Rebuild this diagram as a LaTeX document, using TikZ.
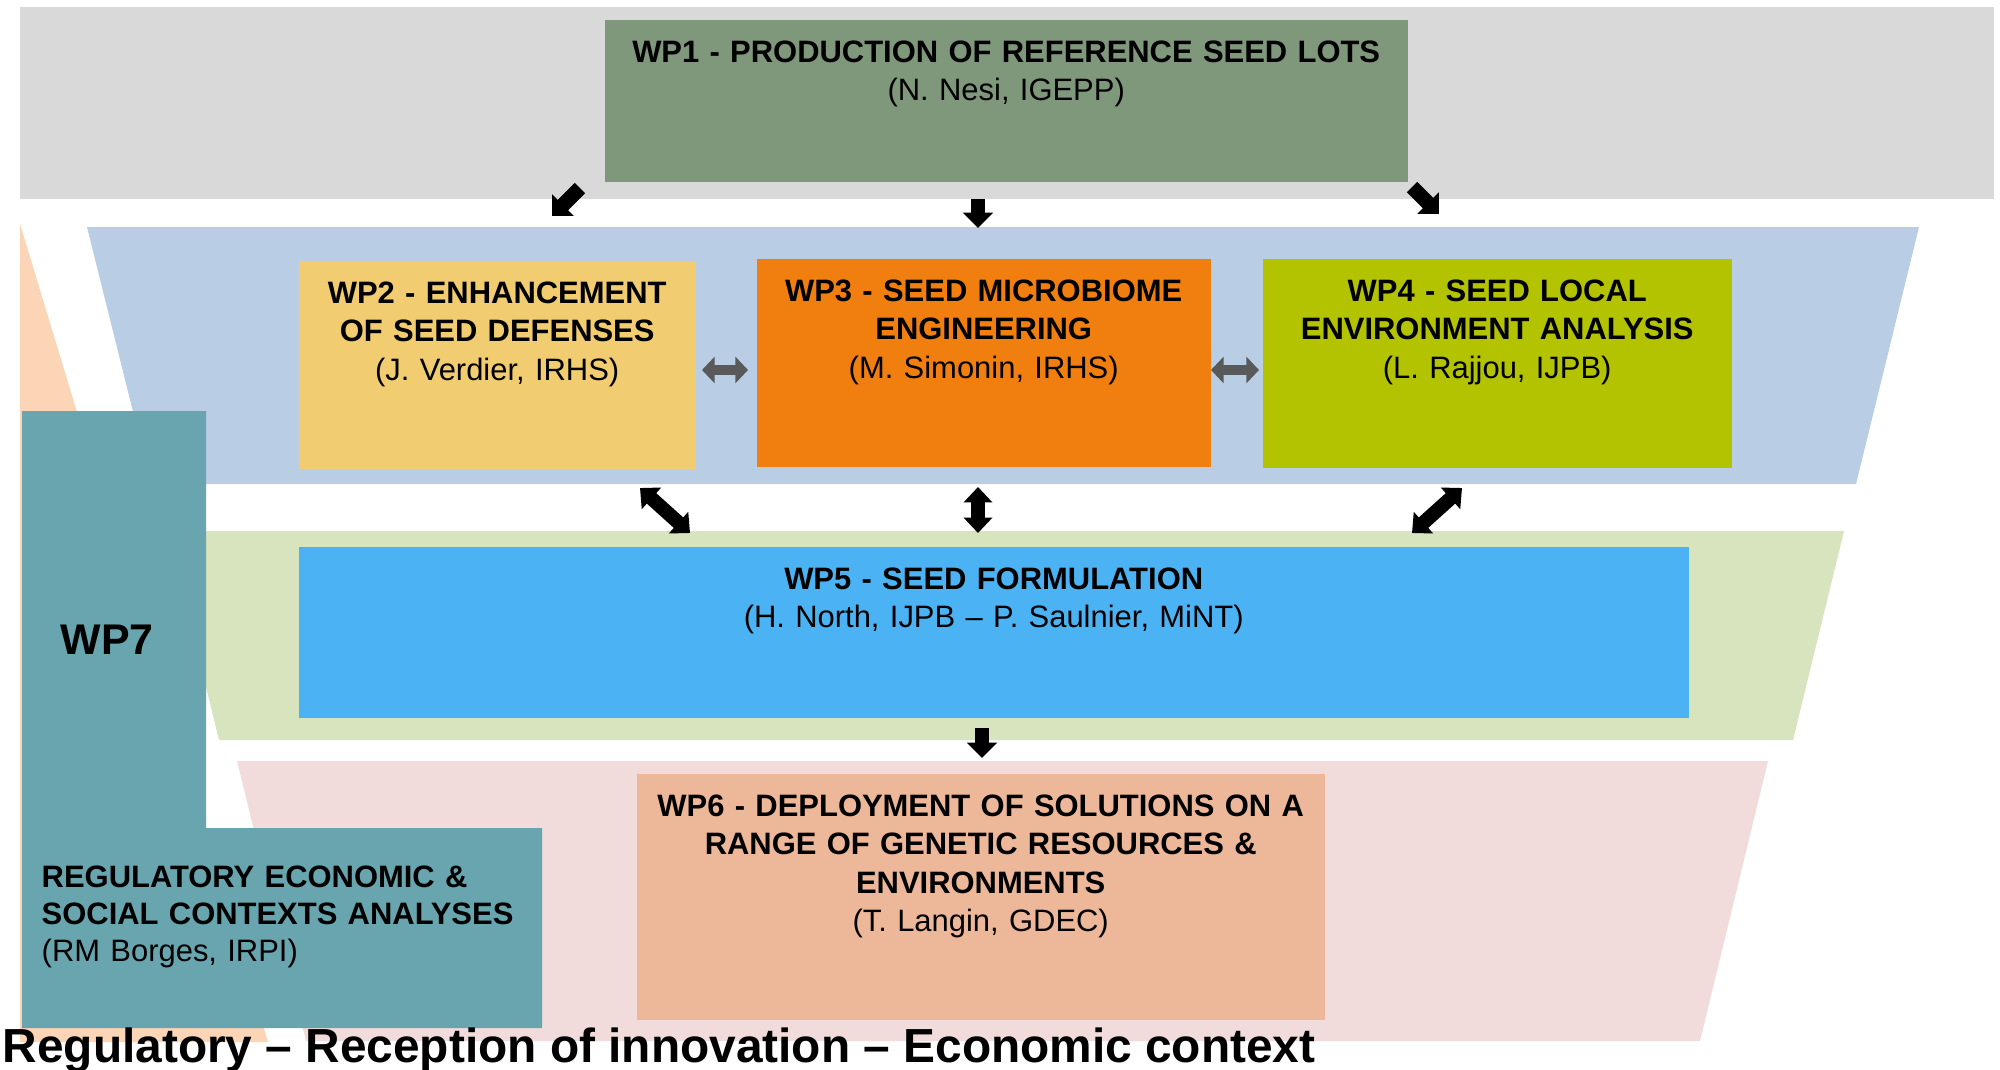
\documentclass[tikz,border=0pt]{standalone}
\usepackage{fontspec}
\setmainfont{Liberation Sans}
\usepackage{tikz}
\usetikzlibrary{arrows.meta,positioning,calc}
\definecolor{bandgray}{HTML}{D9D9D9}
\definecolor{bandblue}{HTML}{B9CDE5}
\definecolor{bandgreen}{HTML}{D7E4BD}
\definecolor{bandpink}{HTML}{F2DCDB}
\definecolor{bandorange}{HTML}{FBD5B5}
\definecolor{wpone}{HTML}{7F977A}
\definecolor{wptwo}{HTML}{F2CC70}
\definecolor{wpthree}{HTML}{F07F10}
\definecolor{wpfour}{HTML}{B4C300}
\definecolor{wpfive}{HTML}{4BB3F3}
\definecolor{wpsix}{HTML}{EDB899}
\definecolor{wpseven}{HTML}{68A5AE}
\definecolor{arrowgray}{HTML}{595959}
\tikzstyle{wpbox}=[rectangle,draw=none,inner sep=0pt,anchor=north west]
\tikzstyle{wptext}=[anchor=base,align=center,inner sep=0pt,font=\fontsize{8.8}{10.95}\selectfont]
\tikzstyle{blockarrow}=[draw=black,line width=4.2pt,-{Triangle[length=4.4pt,width=8.4pt]}]
\tikzstyle{blockdouble}=[draw=black,line width=4pt,{Triangle[length=4.4pt,width=8pt]}-{Triangle[length=4.4pt,width=8pt]}]
\tikzstyle{grayarrow}=[draw=arrowgray,line width=3pt,{Triangle[length=3.6pt,width=7.4pt]}-{Triangle[length=3.6pt,width=7.4pt]}]

\begin{document}
\begin{tikzpicture}[x=0.01cm,y=-0.01cm]

 \fill[white] (0,0) rectangle (2000,1069);
 \useasboundingbox (0,0) rectangle (2000,1069);

 %bands
 \fill[bandgray] (20,7) rectangle (1994,199);
 \fill[bandblue] (87,227) -- (1919,227) -- (1856,484) -- (151,484) -- cycle;
 \fill[bandgreen] (168,531) -- (1844,531) -- (1793,740) -- (219,740) -- cycle;
 \fill[bandpink] (237,761) -- (1768,761) -- (1700,1041) -- (306,1041) -- cycle;
 \fill[bandorange] (20,224) -- (20,1042) -- (268,1042) -- cycle;

 %WP7
 \fill[wpseven] (22,411) -- (206,411) -- (206,828) -- (542,828) -- (542,1028) -- (22,1028) -- cycle;
 \node[font=\fontsize{12.2}{14}\selectfont\bfseries, inner sep=0pt] (wp7) at (107,640) {WP7};
 \node[anchor=base west, align=left, inner sep=0pt, text width=4.9cm,
       font=\fontsize{8.8}{10.6}\selectfont] (wp7t) at (41,887)
       {\textbf{REGULATORY ECONOMIC \&}\\ \textbf{SOCIAL CONTEXTS ANALYSES}\\ (RM Borges, IRPI)};

 %WP boxes
  \foreach \x/\y/\w/\h/\name/\col in {604/19/803/162/wp1/wpone, 298/260/397/208/wp2/wptwo,
          756/258/454/208/wp3/wpthree, 1262/258/469/209/wp4/wpfour,
          298/546/1390/171/wp5/wpfive, 636/773/688/246/wp6/wpsix}
          \node[wpbox, fill=\col, minimum width=\w*0.01cm, minimum height=\h*0.01cm] (\name) at (\x,\y) {};

 %texts
  \foreach \name/\w/\label in {wp1/7.8cm/{\textbf{WP1 - PRODUCTION OF REFERENCE SEED LOTS}\\(N. Nesi, IGEPP)},
          wp2/3.9cm/{\textbf{WP2 - ENHANCEMENT}\\\textbf{OF SEED DEFENSES}\\(J. Verdier, IRHS)},
          wp3/4.4cm/{\textbf{WP3 - SEED MICROBIOME}\\\textbf{ENGINEERING}\\(M. Simonin, IRHS)},
          wp4/4.6cm/{\textbf{WP4 - SEED LOCAL}\\\textbf{ENVIRONMENT ANALYSIS}\\(L. Rajjou, IJPB)},
          wp5/13cm/{\textbf{WP5 - SEED FORMULATION}\\(H. North, IJPB -- P. Saulnier, MiNT)},
          wp6/6.8cm/{\textbf{WP6 - DEPLOYMENT OF SOLUTIONS ON A}\\\textbf{RANGE OF GENETIC RESOURCES \&}\\\textbf{ENVIRONMENTS}\\(T. Langin, GDEC)}}
          \node[wptext, text width=\w, yshift=-0.43cm] (\name t) at (\name.north) {\label};

 %arrow ends
  \foreach \name/\x/\y in {a1s/580/188, a2e/552/216, a1m/978/199, a3e/978/228, a1r/1412/187, a4e/1439/214,
          a2r/702/370, a3l/748/370, a3r/1211/370, a4l/1259/370,
          a2b/640/488, a5l/690/533, a3b/978/487, a5m/978/533, a4b/1462/488, a5r/1412/533,
          a5b/982/728, a6t/982/758}
          \coordinate (\name) at (\x,\y);

  \foreach \source/ \dest in {a1s/a2e, a1m/a3e, a1r/a4e, a5b/a6t}
         \draw[blockarrow] (\source) -- (\dest);

  \foreach \source/ \dest in {a2b/a5l, a3b/a5m, a4b/a5r}
         \draw[blockdouble] (\source) -- (\dest);

  \foreach \source/ \dest in {a2r/a3l, a3r/a4l}
         \draw[grayarrow] (\source) -- (\dest);

 %bottom title
 \node[anchor=base west, inner sep=0pt, font=\fontsize{13.6}{16}\selectfont\bfseries] (context) at (2,1062)
      {Regulatory -- Reception of innovation -- Economic context};

\end{tikzpicture}
\end{document}
